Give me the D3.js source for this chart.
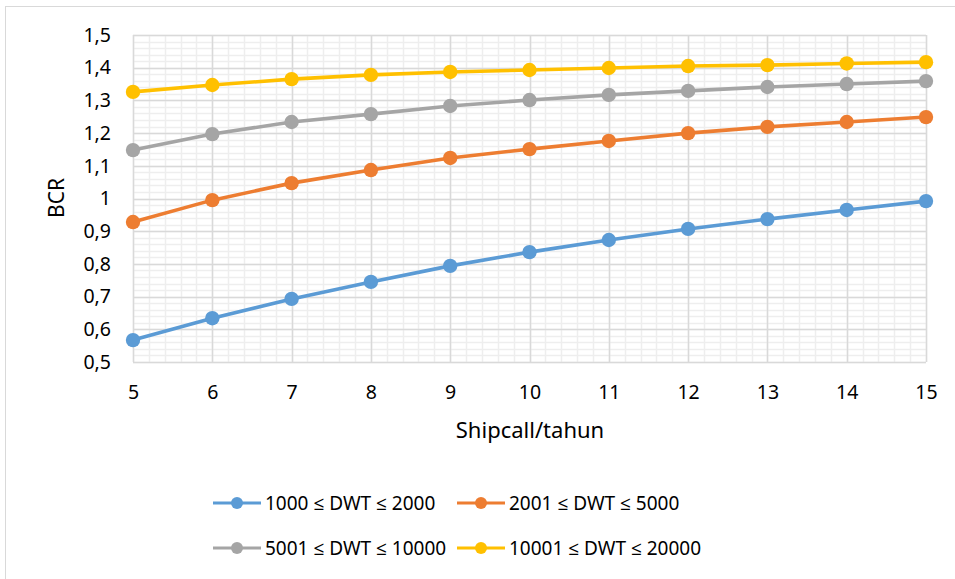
<!DOCTYPE html>
<html>
<head>
<meta charset="utf-8">
<script src="https://cdn.jsdelivr.net/npm/d3@7"></script>
<style>
  body { margin: 0; background: #fff; }
  text { font-family: "Noto Sans", "Open Sans", sans-serif; fill: #000; }
</style>
</head>
<body>
<div id="chart"></div>
<script>
// Данные
const shipcall = [5, 6, 7, 8, 9, 10, 11, 12, 13, 14, 15];
const dwt1 = [0.567, 0.634, 0.693, 0.745, 0.794, 0.836, 0.873, 0.907, 0.937, 0.965, 0.992];
const dwt2 = [0.928, 0.995, 1.047, 1.087, 1.124, 1.151, 1.176, 1.200, 1.219, 1.234, 1.249];
const dwt3 = [1.148, 1.197, 1.234, 1.258, 1.283, 1.301, 1.317, 1.329, 1.341, 1.350, 1.359];
const dwt4 = [1.326, 1.347, 1.365, 1.378, 1.387, 1.393, 1.399, 1.405, 1.408, 1.413, 1.417];
const seriesNames = ["1000 ≤ DWT ≤ 2000", "2001 ≤ DWT ≤ 5000", "5001 ≤ DWT ≤ 10000", "10001 ≤ DWT ≤ 20000"];
const yTicks = [0.5, 0.6, 0.7, 0.8, 0.9, 1, 1.1, 1.2, 1.3, 1.4, 1.5];

const colors = ["#5B9BD5", "#ED7D31", "#A5A5A5", "#FFC000"];
const series = [dwt1, dwt2, dwt3, dwt4].map((vals, i) => ({
    name: seriesNames[i],
    clr: colors[i],
    data: shipcall.map((x, j) => ({x: x, value: vals[j]}))
}));

const W = 955, H = 579;
const svg = d3.select("#chart").append("svg")
    .attr("width", W).attr("height", H);

// рамка
svg.append("rect")
    .attr("x", 5.5).attr("y", 6.5)
    .attr("width", W + 10).attr("height", H + 10)
    .attr("fill", "none").attr("stroke", "#d9d9d9");

const xScale = d3.scaleLinear().domain([5, 15]).range([133, 926]);
const yScale = d3.scaleLinear().domain([0.5, 1.5]).range([362, 35]);
const fmt = d => String(+d.toFixed(1)).replace(".", ",");

const grid = svg.append("g");
// малая сетка
d3.range(5, 15.001, 0.2).forEach(v => {
    grid.append("line")
        .attr("x1", Math.round(xScale(v)) + 0.5).attr("x2", Math.round(xScale(v)) + 0.5)
        .attr("y1", yScale(0.5)).attr("y2", yScale(1.5))
        .attr("stroke", "#eeeeee").attr("stroke-width", 1.5);
});
d3.range(0.5, 1.5001, 0.02).forEach(v => {
    grid.append("line")
        .attr("x1", xScale(5)).attr("x2", xScale(15))
        .attr("y1", Math.round(yScale(v)) + 0.5).attr("y2", Math.round(yScale(v)) + 0.5)
        .attr("stroke", "#eeeeee").attr("stroke-width", 1.5);
});
// основная сетка
shipcall.forEach(v => {
    grid.append("line")
        .attr("x1", Math.round(xScale(v)) + 0.5).attr("x2", Math.round(xScale(v)) + 0.5)
        .attr("y1", yScale(0.5)).attr("y2", yScale(1.5))
        .attr("stroke", "#d9d9d9").attr("stroke-width", 1.5);
});
yTicks.forEach(v => {
    grid.append("line")
        .attr("x1", xScale(5)).attr("x2", xScale(15))
        .attr("y1", Math.round(yScale(v)) + 0.5).attr("y2", Math.round(yScale(v)) + 0.5)
        .attr("stroke", "#d9d9d9").attr("stroke-width", 1.5);
});

// оси
const xAxis = d3.axisBottom(xScale).tickValues(shipcall).tickSize(0).tickPadding(23).tickFormat(d => d);
const gx = svg.append("g").attr("transform", `translate(0,${yScale(0.5)})`).call(xAxis);
gx.select(".domain").remove();
gx.selectAll("text").style("font-size", "19.5px").style("font-family", "'Noto Sans', sans-serif");

const yAxis = d3.axisLeft(yScale).tickValues(yTicks).tickSize(0).tickPadding(22).tickFormat(fmt);
const gy = svg.append("g").attr("transform", `translate(${xScale(5)},0)`).call(yAxis);
gy.select(".domain").remove();
gy.selectAll("text").style("font-size", "19.5px").style("font-family", "'Noto Sans', sans-serif");

svg.append("text")
    .attr("x", 530).attr("y", 438)
    .attr("text-anchor", "middle")
    .style("font-size", "22px")
    .text("Shipcall/tahun");

svg.append("text")
    .attr("transform", "translate(64,198) rotate(-90)")
    .attr("text-anchor", "middle")
    .style("font-size", "21px")
    .text("BCR");

// линии
const line = d3.line().x(d => xScale(d.x)).y(d => yScale(d.value));
series.forEach(s => {
    svg.append("path")
        .datum(s.data)
        .attr("d", line)
        .attr("fill", "none")
        .attr("stroke", s.clr)
        .attr("stroke-width", 3.6)
        .attr("stroke-linejoin", "round");
    svg.selectAll(null)
        .data(s.data)
        .enter()
        .append("circle")
        .attr("cx", d => xScale(d.x))
        .attr("cy", d => yScale(d.value))
        .attr("r", 7.2)
        .attr("fill", s.clr);
});

// легенда
const legPos = [[213, 503], [457, 503], [213, 548], [457, 548]];
series.forEach((s, i) => {
    const [lx, ly] = legPos[i];
    const g = svg.append("g").attr("transform", `translate(${lx},${ly})`);
    g.append("line").attr("x1", 0).attr("x2", 48).attr("y1", 0).attr("y2", 0)
        .attr("stroke", s.clr).attr("stroke-width", 3.2);
    g.append("circle").attr("cx", 24).attr("cy", 0).attr("r", 6).attr("fill", s.clr);
    g.append("text").attr("x", 52).attr("y", 0).attr("dy", "0.35em")
        .style("font-size", "19px")
        .text(s.name);
});
</script>
</body>
</html>
